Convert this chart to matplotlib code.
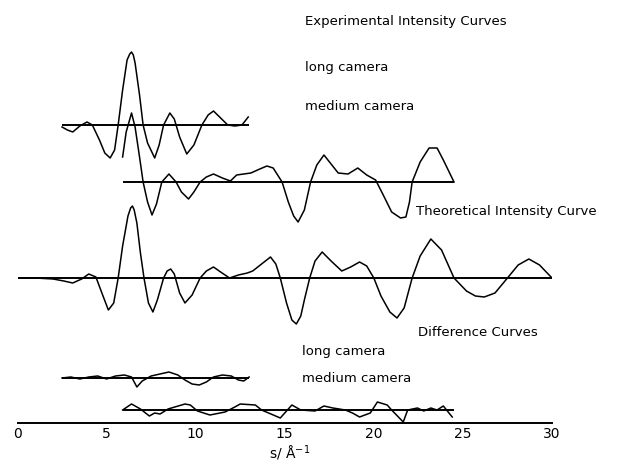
import matplotlib
matplotlib.use('Agg')
import matplotlib.pyplot as plt

# scattering variable s / A^-1 and intensity (arbitrary units) for each curve
theo_s = [0, 1, 2, 2.6, 3.1, 3.6, 4.0, 4.4, 4.8, 5.1, 5.4, 5.65, 5.9, 6.2, 6.35, 6.45,
          6.55, 6.7, 6.9, 7.1, 7.35, 7.6, 7.85, 8.2, 8.4, 8.6, 8.8, 9.1, 9.4, 9.8,
          10.25, 10.6, 11.0, 11.4, 11.9, 12.4, 12.9, 13.2, 13.7, 14.2, 14.5, 14.75,
          15.1, 15.4, 15.65, 15.9, 16.1, 16.4, 16.7, 17.1, 17.6, 18.2, 18.7, 19.2,
          19.6, 20.0, 20.4, 20.9, 21.3, 21.7, 22.15, 22.6, 23.2, 23.8, 24.5, 25.2,
          25.7, 26.2, 26.8, 27.5, 28.1, 28.7, 29.3, 30.0]
theo_i = [0, 0, -1, -3, -5, -1, 4, 1, -18, -32, -25, 0, 32, 62, 70, 72,
          68, 55, 25, 0, -25, -34, -22, 0, 7, 9, 4, -15, -25, -17,
          0, 7, 11, 6, 0, 3, 5, 7, 14, 21, 14, 0,
          -25, -42, -46, -38, -22, 0, 17, 26, 17, 7, 11, 16,
          12, 0, -18, -34, -40, -30, 0, 22, 39, 28, 0, -13,
          -18, -19, -15, 0, 13, 19, 13, 0]

long_s = [2.5, 2.8, 3.1, 3.5, 3.9, 4.2, 4.6, 4.9, 5.2, 5.45, 5.65, 5.9, 6.15, 6.3,
          6.4, 6.5, 6.6, 6.85, 7.05, 7.3, 7.7, 7.95, 8.2, 8.55, 8.8, 9.1, 9.5, 9.9,
          10.35, 10.7, 11.0, 11.4, 11.8, 12.2, 12.6, 12.95]
long_i = [-2, -5, -7, -1, 3, 0, -15, -28, -33, -25, 0, 35, 65, 71,
          73, 70, 62, 30, 0, -18, -33, -20, 0, 12, 6, -12, -29, -20,
          0, 10, 14, 7, 0, -1, 0, 8]

med_s = [5.9, 6.1, 6.4, 6.6, 6.85, 7.05, 7.3, 7.55, 7.8, 8.1, 8.5, 8.9, 9.2, 9.6,
         9.9, 10.25, 10.6, 11.0, 11.5, 11.95, 12.3, 13.1, 13.6, 14.0, 14.35, 14.85,
         15.2, 15.5, 15.75, 16.1, 16.45, 16.8, 17.2, 17.6, 18.0, 18.55, 19.1, 19.6,
         20.1, 20.5, 21.0, 21.5, 21.8, 22.0, 22.15, 22.6, 23.1, 23.55, 23.9, 24.5]
med_i = [25, 50, 69, 55, 25, 0, -20, -33, -22, 0, 8, 0, -10, -17,
         -10, 0, 5, 8, 4, 1, 7, 9, 13, 16, 14, 0,
         -20, -34, -40, -28, 0, 17, 27, 18, 9, 8, 14, 7,
         2, -12, -30, -36, -35, -20, 0, 20, 34, 34, 22, 0]

dlong_s = [2.5, 3.0, 3.5, 4.0, 4.5, 5.0, 5.5, 6.0, 6.4, 6.7, 7.0, 7.5, 8.0, 8.5,
           9.0, 9.4, 9.8, 10.2, 10.6, 11.0, 11.5, 12.0, 12.4, 12.7, 13.0]
dlong_i = [0, 1, -1, 1, 2, -1, 2, 3, 1, -9, -3, 2, 4, 6,
           3, -2, -6, -7, -4, 1, 3, 2, -2, -3, 1]

dmed_s = [5.9, 6.4, 6.9, 7.4, 7.7, 8.0, 8.45, 9.4, 9.7, 10.1, 10.8, 11.65, 12.2,
          12.5, 13.35, 13.7, 14.75, 15.1, 15.4, 15.9, 16.7, 17.2, 17.7, 18.4,
          18.8, 19.2, 19.8, 20.2, 20.75, 21.0, 21.65, 21.9, 22.45, 22.8, 23.2,
          23.55, 23.9, 24.4]
dmed_i = [0, 6, 1, -6, -3, -4, 1, 6, 5, -1, -5, -2, 3,
          6, 5, 0, -8, -1, 5, 0, -1, 4, 2, 0,
          -3, -7, -3, 8, 5, 0, -12, 0, 2, -1, 2,
          0, 4, -7]

# vertical offsets (pixels above the s axis) and baseline extents
curves = [
    (long_s, long_i, 298, (2.5, 13.0)),
    (med_s, med_i, 241, (5.9, 24.5)),
    (theo_s, theo_i, 145, (0.0, 30.0)),
    (dlong_s, dlong_i, 45, (2.5, 13.0)),
    (dmed_s, dmed_i, 13, (5.9, 24.5)),
]

font = 'DejaVu Sans'
fig = plt.figure(figsize=(6.26, 4.63), dpi=100)
ax = fig.add_axes([17.5 / 626, 40 / 463, (552 - 17.5) / 626, 423 / 463])

for s, inten, off, (b0, b1) in curves:
    ax.plot([b0, b1], [off, off], color='black', lw=1.4, solid_capstyle='butt')
    ax.plot(s, [v + off for v in inten], color='black', lw=1.1)

ax.set_xlim(0, 30)
ax.set_ylim(0, 423)
for side in ['top', 'right', 'left']:
    ax.spines[side].set_visible(False)
ax.spines['bottom'].set_linewidth(1.4)
ax.set_yticks([])
ax.set_xticks([0, 5, 10, 15, 20, 25, 30])
ax.tick_params(axis='x', length=0, pad=3, labelsize=10)
for lab in ax.get_xticklabels():
    lab.set_family(font)

txt = dict(fontsize=9.5, family=font, va='center', ha='left')
ax.text(16.15, 401, 'Experimental Intensity Curves', **txt)
ax.text(16.15, 356, 'long camera', **txt)
ax.text(16.15, 317, 'medium camera', **txt)
ax.text(22.35, 211, 'Theoretical Intensity Curve', **txt)
ax.text(22.5, 91, 'Difference Curves', **txt)
ax.text(15.98, 71, 'long camera', **txt)
ax.text(15.98, 45, 'medium camera', **txt)
ax.text(15.3, -30, 's/ Å$^{-1}$', fontsize=10, family=font, ha='center', va='center',
        clip_on=False)

fig.savefig('out.png', dpi=100)
